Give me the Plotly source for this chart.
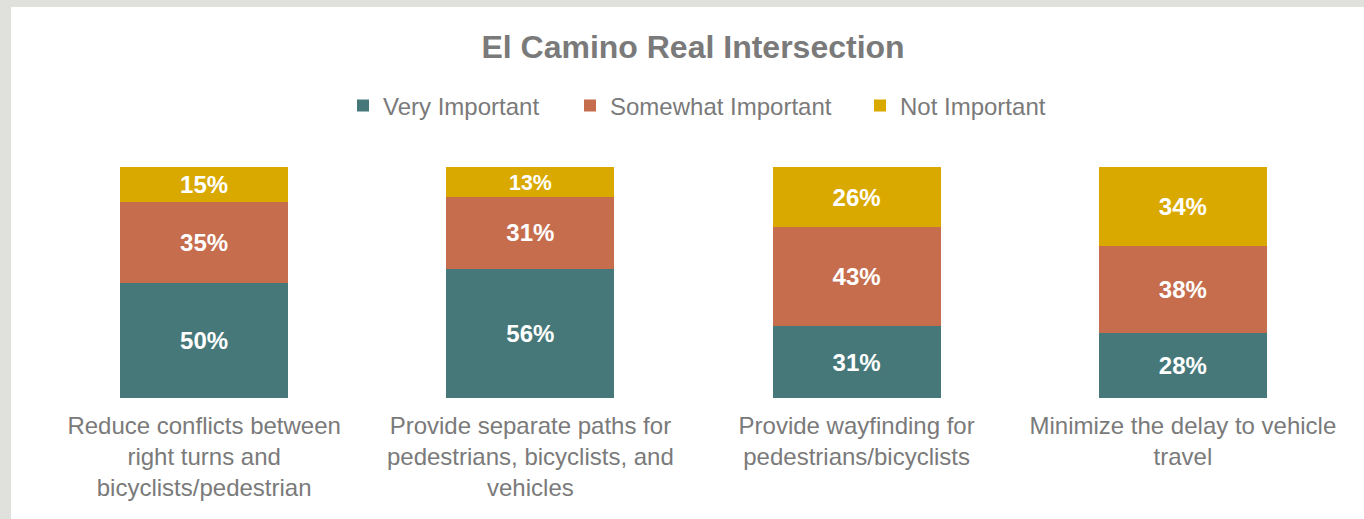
import plotly.graph_objects as go

categories = [
    "Reduce conflicts between<br>right turns and<br>bicyclists/pedestrian",
    "Provide separate paths for<br>pedestrians, bicyclists, and<br>vehicles",
    "Provide wayfinding for<br>pedestrians/bicyclists",
    "Minimize the delay to vehicle<br>travel",
]
very_important = [50, 56, 31, 28]
somewhat_important = [35, 31, 43, 38]
not_important = [15, 13, 26, 34]

series = [
    ("Very Important", very_important, "#46787A"),
    ("Somewhat Important", somewhat_important, "#C66D4E"),
    ("Not Important", not_important, "#DAA900"),
]

W, H = 1364, 519
ml, mr, mt, mb = 41, 18, 167, 121
pw = W - ml - mr
ph = H - mt - mb
def px(x): return (x - ml) / pw
def py(y): return (H - mb - y) / ph

TXT = "#7A7A7A"
FONT = "Liberation Sans, Arial"
legend_text_x = [383, 610, 900]

fig = go.Figure()
for i, (name, vals, color) in enumerate(series):
    lg = "legend" if i == 0 else f"legend{i+1}"
    fig.add_trace(go.Bar(
        name=name, x=categories, y=vals, legend=lg, showlegend=True,
        marker=dict(color=color, line=dict(width=0)),
        text=[f"{v}%" for v in vals], textposition="inside",
        insidetextanchor="middle",
        textfont=dict(color="white", size=24, family=FONT, weight="bold"),
    ))

legends = {}
for i, tx in enumerate(legend_text_x):
    key = "legend" if i == 0 else f"legend{i+1}"
    legends[key] = dict(
        orientation="h", x=px(tx - 40), xanchor="left",
        y=1 - 106 / H, yref="container", yanchor="middle",
        bgcolor="rgba(0,0,0,0)", borderwidth=0, visible=True,
        font=dict(size=24, color=TXT, family=FONT), itemwidth=30,
    )

fig.update_layout(
    width=W, height=H, showlegend=True,
    margin=dict(l=ml, r=mr, t=mt, b=mb, pad=0, autoexpand=False),
    barmode="stack", bargap=0.485,
    paper_bgcolor="#E0E0DC", plot_bgcolor="rgba(0,0,0,0)",
    font=dict(family=FONT, color=TXT),
    title=dict(text="<b>El Camino Real Intersection</b>", x=693 / W, xanchor="center",
               y=1 - 47 / H, yanchor="middle",
               font=dict(size=32, color=TXT, family=FONT)),
    xaxis=dict(showgrid=False, zeroline=False, showline=False, ticks="",
               ticklabelstandoff=11,
               tickfont=dict(size=24, color=TXT, family=FONT), range=[-0.5, 3.5]),
    yaxis=dict(visible=False, range=[0, 100]),
    shapes=[dict(type="rect", xref="paper", yref="paper", layer="below",
                 x0=px(11), x1=px(1370), y0=py(530), y1=py(7),
                 fillcolor="white", line=dict(width=0))],
    **legends,
)

fig.write_html("out.html", config={"displayModeBar": False},
               post_script="document.body.style.margin='0px';document.body.style.overflow='hidden';")
